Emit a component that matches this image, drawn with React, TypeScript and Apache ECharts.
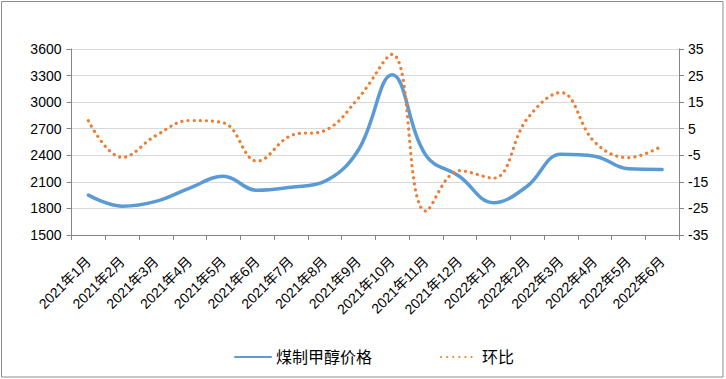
import React, { useEffect, useRef } from "react";
import * as echarts from "echarts";

const categories = [
  "2021年1月", "2021年2月", "2021年3月", "2021年4月", "2021年5月", "2021年6月",
  "2021年7月", "2021年8月", "2021年9月", "2021年10月", "2021年11月", "2021年12月",
  "2022年1月", "2022年2月", "2022年3月", "2022年4月", "2022年5月", "2022年6月",
];
const priceValues = [1950, 1826, 1880, 2030, 2163, 2005, 2040, 2105, 2460, 3310, 2400, 2160, 1864, 2050, 2411, 2390, 2247, 2240];
const momValues = [8, -5.8, 2.4, 8.1, 7.2, -7.2, 2.4, 4.3, 16.5, 33, -26, -10.8, -13.6, 8.7, 18.6, 0, -5.9, -1.5];
const seriesNames = ["煤制甲醇价格", "环比"];

const FONT = '"Liberation Sans", "Noto Sans CJK SC", sans-serif';

export default function App() {
  const ref = useRef<HTMLDivElement>(null);
  useEffect(() => {
    if (!ref.current) return;
    const chart = echarts.init(ref.current, undefined, { renderer: "svg" });
    chart.setOption({
      animation: false,
      backgroundColor: "#ffffff",
      textStyle: { fontFamily: FONT, color: "#000" },
      graphic: [
        {
          type: "rect",
          shape: { x: 1.5, y: 1.5, width: 721.5, height: 375.5 },
          style: { fill: "none", stroke: "#8c8c8c", lineWidth: 1 },
          silent: true,
        },
      ],
      grid: { left: 71.5, right: 47, top: 49, bottom: 144, containLabel: false },
      legend: {
        data: seriesNames,
        left: 234,
        top: 349,
        padding: 0,
        itemWidth: 36,
        itemHeight: 14,
        itemGap: 68,
        itemStyle: { opacity: 0 },
        textStyle: { fontSize: 16, color: "#000", fontFamily: FONT },
      },
      xAxis: {
        type: "category",
        data: categories,
        boundaryGap: true,
        axisLine: { onZero: false, lineStyle: { color: "#868686", width: 1 } },
        axisTick: { show: true, length: 5, lineStyle: { color: "#868686" } },
        axisLabel: { rotate: 45, fontSize: 14, color: "#000", margin: 24, interval: 0, fontFamily: FONT },
        splitLine: { show: false },
      },
      yAxis: [
        {
          type: "value",
          min: 1500,
          max: 3600,
          interval: 300,
          position: "left",
          axisLine: { show: true, lineStyle: { color: "#868686" } },
          axisTick: { show: true, length: 5, lineStyle: { color: "#868686" } },
          axisLabel: { fontSize: 14, color: "#000", margin: 10, fontFamily: FONT, formatter: (v: number) => String(v) },
          splitLine: { show: true, lineStyle: { color: "#d9d9d9", width: 1 } },
        },
        {
          type: "value",
          min: -35,
          max: 35,
          interval: 10,
          position: "right",
          axisLine: { show: true, lineStyle: { color: "#868686" } },
          axisTick: { show: true, length: 5, lineStyle: { color: "#868686" } },
          axisLabel: { fontSize: 14, color: "#000", margin: 9, fontFamily: FONT, formatter: (v: number) => String(v) },
          splitLine: { show: false },
        },
      ],
      series: [
        {
          name: seriesNames[0],
          type: "line",
          yAxisIndex: 0,
          data: priceValues,
          smooth: 0.4,
          symbol: "none",
          lineStyle: { color: "#5B9BD5", width: 3.5, cap: "round", join: "round" },
          itemStyle: { color: "#5B9BD5" },
        },
        {
          name: seriesNames[1],
          type: "line",
          yAxisIndex: 1,
          data: momValues,
          smooth: 0.4,
          symbol: "none",
          lineStyle: { color: "#ED7D31", width: 3.2, type: [0.1, 6], cap: "round", join: "round" },
          itemStyle: { color: "#ED7D31" },
        },
      ],
    });
    return () => chart.dispose();
  }, []);
  return (
    <div
      ref={ref}
      style={{ position: "fixed", left: 0, top: 0, width: 726, height: 379 }}
    />
  );
}
